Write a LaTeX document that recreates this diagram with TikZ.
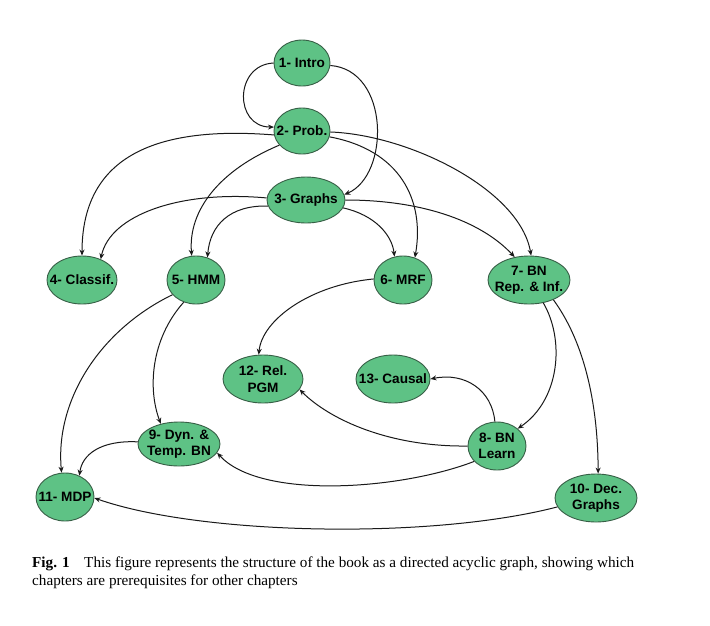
\documentclass[tikz,border=0pt]{standalone}
\usepackage{fontspec}
\setmainfont{Liberation Serif}
\newfontfamily\nodefont{Liberation Sans}
\usetikzlibrary{arrows.meta,shapes.geometric}
\definecolor{nodegreen}{RGB}{94,194,133}
\definecolor{nodeborder}{RGB}{55,95,70}
\definecolor{edgecol}{RGB}{25,25,25}
\tikzset{
  chap/.style={ellipse, draw=nodeborder, line width=0.9pt, fill=nodegreen, inner sep=0pt},
  chaptext/.style={align=center, inner sep=0pt, text=black, font=\nodefont\fontsize{13.6}{16.5}\selectfont\bfseries},
  link/.style={draw=edgecol, line width=1pt, -{Stealth[length=6pt,width=5pt]}},
  captext/.style={anchor=base west, inner sep=0pt, font=\fontsize{15.2}{18}\selectfont}
}
\begin{document}
\begin{tikzpicture}[x=1pt,y=-1pt]
\useasboundingbox (0,0) rectangle (710,625);
\fill[white] (0,0) rectangle (710,625);
% nodes
\node[chap, minimum width=56pt, minimum height=46pt, label={[chaptext]center:1- Intro}] (n1) at (302,63) {};
\node[chap, minimum width=56pt, minimum height=46pt, label={[chaptext]center:2- Prob.}] (n2) at (302,131) {};
\node[chap, minimum width=78pt, minimum height=46pt, label={[chaptext]center:3- Graphs}] (n3) at (306,200) {};
\node[chap, minimum width=70pt, minimum height=48pt, label={[chaptext]center:4- Classif.}] (n4) at (82,280) {};
\node[chap, minimum width=58pt, minimum height=48pt, label={[chaptext]center:5- HMM}] (n5) at (196,280) {};
\node[chap, minimum width=58pt, minimum height=48pt, label={[chaptext]center:6- MRF}] (n6) at (403,280) {};
\node[chap, minimum width=82pt, minimum height=48pt, label={[chaptext]center:7- BN\\Rep. \& Inf.}] (n7) at (529,280) {};
\node[chap, minimum width=80pt, minimum height=48pt, label={[chaptext]center:12- Rel.\\PGM}] (n12) at (263,379) {};
\node[chap, minimum width=74pt, minimum height=48pt, label={[chaptext]center:13- Causal}] (n13) at (393,379) {};
\node[chap, minimum width=58pt, minimum height=48pt, label={[chaptext]center:8- BN\\Learn}] (n8) at (497,446) {};
\node[chap, minimum width=82pt, minimum height=44pt, label={[chaptext]center:9- Dyn. \&\\Temp. BN}] (n9) at (179,444) {};
\node[chap, minimum width=58pt, minimum height=48pt, label={[chaptext]center:11- MDP}] (n11) at (65,497) {};
\node[chap, minimum width=82pt, minimum height=48pt, label={[chaptext]center:10- Dec.\\Graphs}] (n10) at (596,498) {};
% edges
\draw[link] (n1.180) .. controls (234,65) and (234,127) .. (n2.172);
\draw[link] (n1.-5) .. controls (390,70) and (390,175) .. (n3.8);
\draw[link] (n2.188) .. controls (150,125) and (82,160) .. (n4.north);
\draw[link] (n2.212) .. controls (220,170) and (188,210) .. (n5.100);
\draw[link] (n3.177) .. controls (180,190) and (110,215) .. (n4.48);
\draw[link] (n3.189) .. controls (230,205) and (210,225) .. (n5.63);
\draw[link] (n2.-12) .. controls (400,150) and (425,200) .. (n6.62);
\draw[link] (n2.-2) .. controls (410,135) and (520,190) .. (n7.85);
\draw[link] (n3.-12) .. controls (375,215) and (392,235) .. (n6.110);
\draw[link] (n3.0) .. controls (420,200) and (480,220) .. (n7.122);
\draw[link] (n6.178) .. controls (310,285) and (262,320) .. (n12.100);
\draw[link] (n7.-58) .. controls (565,340) and (560,400) .. (n8.40);
\draw[link] (n7.-39) .. controls (590,350) and (598,420) .. (n10.85);
\draw[link] (n8.95) .. controls (492,390) and (465,372) .. (n13.0);
\draw[link] (n8.180) .. controls (390,447) and (330,420) .. (n12.-16);
\draw[link] (n8.214) .. controls (400,490) and (260,500) .. (n9.-13);
\draw[link] (n10.193) .. controls (430,540) and (200,535) .. (n11.-2);
\draw[link] (n5.241) .. controls (150,340) and (148,390) .. (n9.132);
\draw[link] (n5.212) .. controls (100,330) and (55,400) .. (n11.98);
\draw[link] (n9.177) .. controls (100,440) and (82,455) .. (n11.56);
% caption
\node[captext] (cap1) at (32,567)
  {\textbf{Fig. 1}\hspace{0.7em} This figure represents the structure of the book as a directed acyclic graph, showing which};
\node[captext] (cap2) at (32,585) {chapters are prerequisites for other chapters};
\end{tikzpicture}
\end{document}
